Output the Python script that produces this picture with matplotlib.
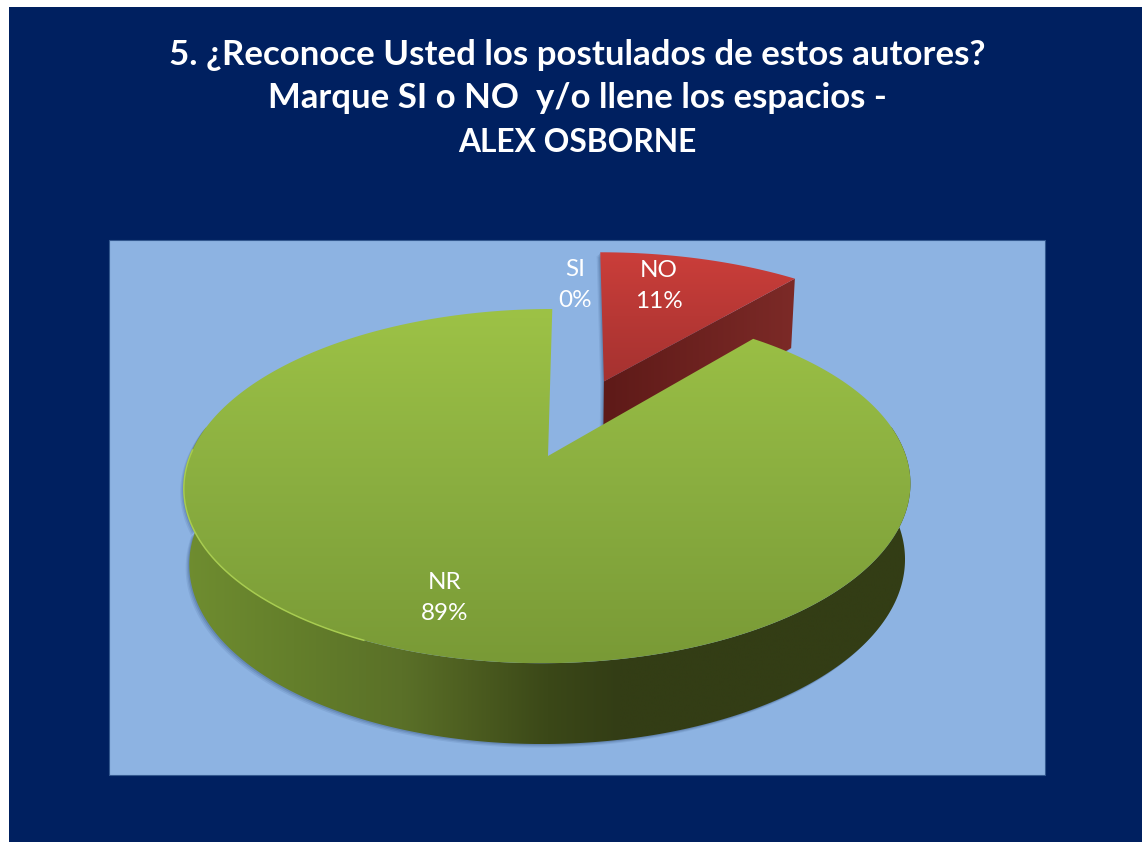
import matplotlib
matplotlib.use('Agg')
import matplotlib.pyplot as plt
import numpy as np
from matplotlib.colors import LinearSegmentedColormap
from matplotlib.patches import Polygon, Rectangle

plt.rcParams['font.family'] = ['Lato', 'DejaVu Sans']

# data
categories = ['SI', 'NO', 'NR']
values = [0, 11, 89]
title_lines = ['5. ¿Reconoce Usted los postulados de estos autores?',
               'Marque SI o NO  y/o llene los espacios -',
               'ALEX OSBORNE']

# pie geometry, in pixels
cx, cy = 548, 456
sx, sy = 358, 172
k = 0.17
depth = 75
slant = 0.014
n = 300


def project(u, v, low=False):
    w = 1 + k * v
    x = sx * (u + slant * v) / w
    y = sy * v / w
    if low:
        return cx + x * 0.985, cy - y + depth * w ** -0.4
    return cx + x, cy - y


def wedge_top(a0, a1, ou=0, ov=0, rx=1, ry=1):
    t = np.radians(np.linspace(a0, a1, n))
    u = np.r_[ou, ou + rx * np.sin(t)]
    v = np.r_[ov, ov + ry * np.cos(t)]
    return np.column_stack(project(u, v))


def rim(a0, a1, ou=0, ov=0, rx=1, ry=1):
    t = np.radians(np.linspace(a0, a1, n))
    u, v = ou + rx * np.sin(t), ov + ry * np.cos(t)
    top = np.column_stack(project(u, v))
    low = np.column_stack(project(u, v, low=True))
    return top, low


def gradient(ax, poly, colors, horizontal=False, zorder=3):
    cmap = LinearSegmentedColormap.from_list('g', colors)
    x0, y0 = poly.min(axis=0)
    x1, y1 = poly.max(axis=0)
    g = np.linspace(0, 1, 256)
    g = g.reshape(1, -1) if horizontal else g.reshape(-1, 1)
    im = ax.imshow(g, cmap=cmap, extent=(x0, x1, y1, y0), aspect='auto',
                   vmin=0, vmax=1, zorder=zorder, interpolation='bilinear')
    p = Polygon(poly, closed=True, transform=ax.transData, fc='none', ec='none')
    ax.add_patch(p)
    im.set_clip_path(p)


def shadow(ax, poly, zorder):
    for i, a in zip([6, 4, 2], [0.10, 0.14, 0.2]):
        ax.add_patch(Polygon(poly + [-i * 0.6, i * 0.6], closed=True, fc='#26456f',
                             ec='none', alpha=a, zorder=zorder))


fig = plt.figure(figsize=(11.42, 8.42), dpi=100, facecolor='white')
ax = fig.add_axes([0, 0, 1, 1])
ax.axis('off')

ax.add_patch(Rectangle((9, 7), 1142, 842, fc='#002060', ec='none', zorder=0))
ax.add_patch(Rectangle((109, 240), 936, 535, fc='#8db3e2', ec='#33588f', lw=0.8, zorder=1))

angle_no = values[0] / 100 * 360
angle_nr = angle_no + values[1] / 100 * 360

# NO slice, pulled out
ou, ov = 0.162, 0.468
rx, ry = 1.03, 1.015
no_top = wedge_top(angle_no, angle_nr, ou, ov, rx, ry)
arc_t, arc_l = rim(angle_no, angle_nr, ou, ov, rx, ry)
a_top = np.array(project(ou, ov))
a_low = np.array(project(ou, ov, low=True))
no_wall = np.array([a_top, arc_t[-1], arc_l[-1], a_low])
shadow(ax, np.vstack([no_wall[2:], [a_top, arc_t[0]]]), 2)
gradient(ax, no_wall, ['#5e1a18', '#7c2a27'], horizontal=True, zorder=3)
gradient(ax, no_top, ['#cb3e3a', '#a53230'], zorder=4)

# NR slice
nr_top = wedge_top(angle_nr, 360)
t_top, t_low = rim(80, 280)
nr_wall = np.vstack([t_top, t_low[::-1]])
shadow(ax, np.vstack([t_low, t_top[::-1]]), 5)
gradient(ax, nr_wall, [(0, '#6f8d30'), (0.15, '#647f2b'), (0.3, '#5a7028'), (0.39, '#4d5e20'),
                       (0.5, '#3b4818'), (0.6, '#333d15'), (1, '#333d15')],
         horizontal=True, zorder=6)
gradient(ax, nr_top, ['#9dc246', '#8aae40', '#799a36'], zorder=7)

# thin light rim on the lit side of the top face
r_top, _ = rim(205, 272)
ax.plot(r_top[:, 0], r_top[:, 1], color='#a8cc50', lw=1.1, zorder=8)

# data labels
label_pos = [(575, 285), (659, 286), (445, 598)]
for name, val, (x, y) in zip(categories, values, label_pos):
    ax.text(x, y, f'{name}\n{val}%', color='white', fontsize=17.5, ha='center',
            va='center', linespacing=1.62, zorder=9)

# title
for line, y, fs in zip(title_lines, [55, 98, 143], [25.1, 25, 22.9]):
    ax.text(577, y, line, color='white', fontsize=fs, fontweight='bold',
            ha='center', va='center', zorder=9)

ax.set_xlim(0, 1142)
ax.set_ylim(842, 0)
fig.savefig('out.png', dpi=100, facecolor='white')
